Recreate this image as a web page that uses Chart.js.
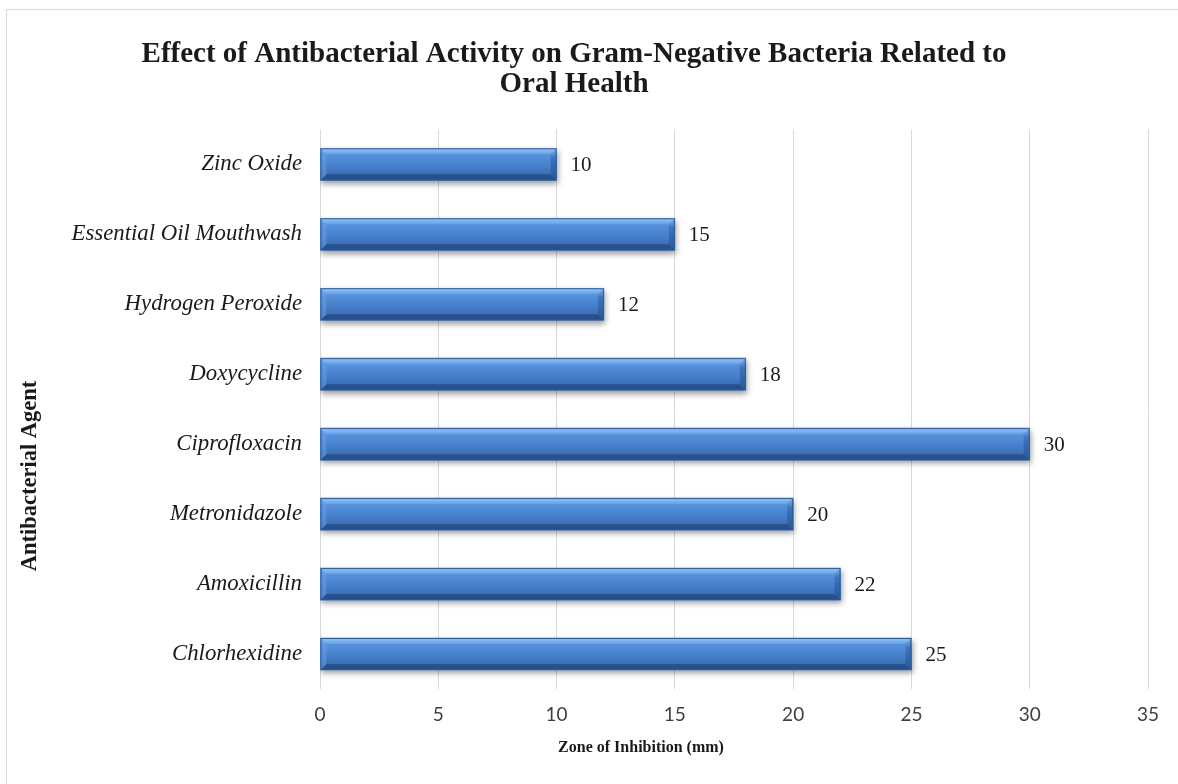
<!DOCTYPE html>
<html>
<head>
<meta charset="utf-8">
<script src="https://cdn.jsdelivr.net/npm/chart.js@4/dist/chart.umd.min.js"></script>
<style>
  html, body { margin: 0; padding: 0; background: #fff; overflow: hidden; }
  #frame { position: absolute; left: 6px; top: 9px; width: 1200px; height: 800px;
           border-left: 1px solid #d9d9d9; border-top: 1px solid #d9d9d9; }
  #wrap { position: absolute; left: 0; top: 0; width: 1178px; height: 784px; }
</style>
</head>
<body>
<div id="frame"></div>
<div id="wrap"><canvas id="chart" width="1178" height="784"></canvas></div>
<script>
// Agents listed top to bottom as they appear on the chart
const agents = [
  'Zinc Oxide',
  'Essential Oil Mouthwash',
  'Hydrogen Peroxide',
  'Doxycycline',
  'Ciprofloxacin',
  'Metronidazole',
  'Amoxicillin',
  'Chlorhexidine'
];
// Zone of inhibition, mm
const inhibitionMm = [10, 15, 12, 18, 30, 20, 22, 25];
const chartTitle = ['Effect of Antibacterial Activity on Gram-Negative Bacteria Related to', 'Oral Health'];
const xAxisTitle = 'Zone of Inhibition (mm)';
const yAxisTitle = 'Antibacterial Agent';

const SERIF = '"Liberation Serif", "Times New Roman", serif';

// Soft drop shadow under the bars
const barShadow = {
  id: 'barShadow',
  beforeDatasetDraw(chart) {
    const c = chart.ctx;
    c.save();
    c.shadowColor = 'rgba(0,0,0,0.4)';
    c.shadowBlur = 6;
    c.shadowOffsetX = 1;
    c.shadowOffsetY = 3;
  },
  afterDatasetDraw(chart) {
    chart.ctx.restore();
  }
};

// Gradient face plus bevelled edges on each bar
const barBevel = {
  id: 'barBevel',
  afterDatasetsDraw(chart) {
    const c = chart.ctx;
    const meta = chart.getDatasetMeta(0);
    meta.data.forEach((bar) => {
      const x0 = Math.min(bar.base, bar.x), x1 = Math.max(bar.base, bar.x);
      const y0 = bar.y - bar.height / 2, y1 = bar.y + bar.height / 2;
      const b = 6;
      c.save();
      const g = c.createLinearGradient(0, y0, 0, y1);
      g.addColorStop(0, '#78aeea');
      g.addColorStop(0.2, '#5792dc');
      g.addColorStop(0.55, '#4680cc');
      g.addColorStop(1, '#3363a5');
      c.fillStyle = g;
      c.fillRect(x0, y0, x1 - x0, y1 - y0);
      // top bevel
      c.beginPath();
      c.moveTo(x0, y0); c.lineTo(x1, y0); c.lineTo(x1 - b, y0 + b); c.lineTo(x0 + b, y0 + b); c.closePath();
      const gt = c.createLinearGradient(0, y0, 0, y0 + b);
      gt.addColorStop(0, '#9ac6f4');
      gt.addColorStop(1, '#64a0e6');
      c.fillStyle = gt; c.fill();
      // bottom bevel
      c.beginPath();
      c.moveTo(x0, y1); c.lineTo(x1, y1); c.lineTo(x1 - b, y1 - b); c.lineTo(x0 + b, y1 - b); c.closePath();
      c.fillStyle = 'rgba(25,60,115,0.55)'; c.fill();
      // right end bevel
      c.beginPath();
      c.moveTo(x1, y0); c.lineTo(x1, y1); c.lineTo(x1 - b, y1 - b); c.lineTo(x1 - b, y0 + b); c.closePath();
      const gr = c.createLinearGradient(0, y0, 0, y1);
      gr.addColorStop(0, '#86b6ec');
      gr.addColorStop(0.3, '#3c74bd');
      gr.addColorStop(1, '#2a5794');
      c.fillStyle = gr; c.fill();
      // left end bevel
      c.beginPath();
      c.moveTo(x0, y0); c.lineTo(x0, y1); c.lineTo(x0 + b, y1 - b); c.lineTo(x0 + b, y0 + b); c.closePath();
      c.fillStyle = 'rgba(110,165,230,0.45)'; c.fill();
      // outline
      c.strokeStyle = '#2d5b97';
      c.lineWidth = 1;
      c.strokeRect(x0 + 0.5, y0 + 0.5, x1 - x0 - 1, y1 - y0 - 1);
      c.restore();
    });
  }
};

// Value labels at the end of each bar
const valueLabels = {
  id: 'valueLabels',
  afterDatasetsDraw(chart) {
    const c = chart.ctx;
    const ds = chart.data.datasets[0];
    chart.getDatasetMeta(0).data.forEach((bar, i) => {
      c.save();
      c.font = '21px ' + SERIF;
      c.fillStyle = '#1a1a1a';
      c.textAlign = 'left';
      c.textBaseline = 'middle';
      c.fillText(String(ds.data[i]), bar.x + 14, bar.y + 1);
      c.restore();
    });
  }
};

// Axis titles
const axisTitles = {
  id: 'axisTitles',
  afterDraw(chart) {
    const c = chart.ctx;
    c.save();
    c.fillStyle = '#1a1a1a';
    c.textAlign = 'center';
    c.textBaseline = 'middle';
    c.font = 'bold 16px ' + SERIF;
    c.fillText(xAxisTitle, 641, 748);
    c.font = 'bold 22.5px ' + SERIF;
    c.translate(30, 476);
    c.rotate(-Math.PI / 2);
    c.fillText(yAxisTitle, 0, 0);
    c.restore();
  }
};

new Chart(document.getElementById('chart'), {
  type: 'bar',
  data: {
    labels: agents,
    datasets: [{
      data: inhibitionMm,
      backgroundColor: '#4680cc',
      borderWidth: 0,
      barThickness: 32
    }]
  },
  options: {
    indexAxis: 'y',
    responsive: false,
    animation: false,
    devicePixelRatio: 1,
    layout: { padding: { left: 0, right: 30, top: 0, bottom: 0 } },
    plugins: {
      legend: { display: false },
      tooltip: { enabled: false },
      title: {
        display: true,
        text: chartTitle,
        color: '#1a1a1a',
        font: { family: SERIF, size: 29, weight: 'bold', lineHeight: 1.04 },
        padding: { top: 39, bottom: 30 }
      }
    },
    scales: {
      x: {
        min: 0,
        max: 35,
        ticks: {
          stepSize: 5,
          color: '#404040',
          font: { family: 'Lato, "Open Sans", sans-serif', size: 19 },
          padding: 14
        },
        grid: { color: '#d9d9d9', lineWidth: 1, tickLength: 0, drawTicks: false },
        border: { display: false },
        afterFit(scale) { scale.height = 95; }
      },
      y: {
        ticks: {
          color: '#1a1a1a',
          font: { family: SERIF, size: 22.8, style: 'italic' },
          padding: 18
        },
        grid: { display: false, drawTicks: false },
        border: { display: false },
        afterFit(scale) { scale.width = 320; }
      }
    }
  },
  plugins: [barShadow, barBevel, valueLabels, axisTitles]
});
</script>
</body>
</html>
